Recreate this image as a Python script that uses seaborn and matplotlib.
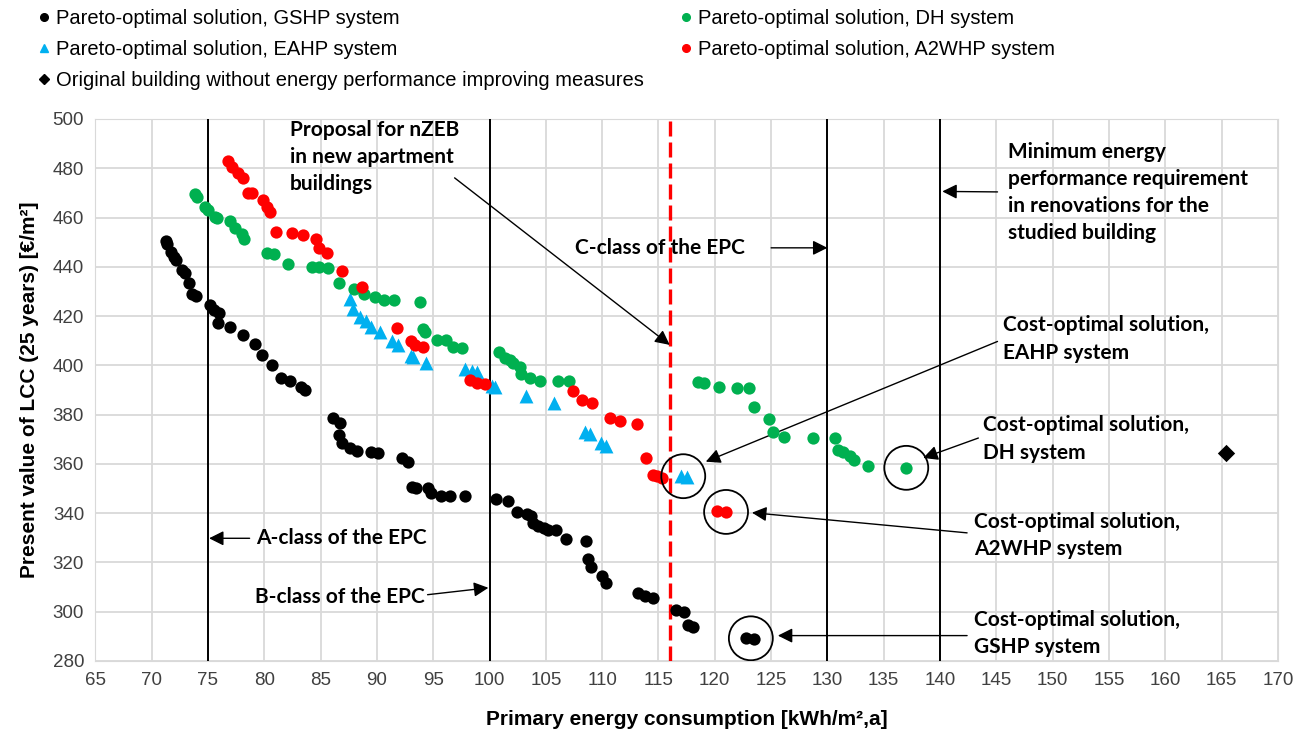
import numpy as np
import pandas as pd
import seaborn as sns
import matplotlib.pyplot as plt
from matplotlib.lines import Line2D

# pareto-optimal solutions
gshp_x = [71.3, 71.4, 71.7, 72.0, 72.2, 72.7, 73.0, 73.3, 73.6, 73.9, 75.2, 75.5, 76.0, 75.9, 77.0, 78.1,
          79.2, 79.8, 80.7, 81.5, 82.3, 83.3, 83.6, 86.1, 86.7, 86.6, 86.9, 87.6, 88.2, 89.5, 90.1, 92.2,
          92.8, 93.1, 93.5, 94.5, 94.8, 95.7, 96.5, 97.8, 100.6, 101.6, 102.4, 103.3, 103.7, 103.9, 104.3,
          104.8, 105.2, 105.9, 106.8, 108.6, 108.7, 109.0, 110.0, 110.3, 113.2, 113.8, 114.5, 116.6, 117.3,
          117.6, 118.1, 122.8, 123.5]
gshp_y = [450.6, 449.3, 446.2, 444.1, 442.8, 438.7, 437.4, 433.6, 429.0, 428.3, 424.5, 422.5, 421.4, 417.1,
          415.7, 412.4, 408.7, 404.3, 400.2, 394.8, 393.8, 391.4, 390.1, 378.6, 376.6, 371.8, 368.4, 366.4,
          365.4, 365.0, 364.6, 362.4, 360.6, 350.8, 350.2, 350.2, 348.2, 347.1, 346.8, 346.8, 345.7, 345.0,
          340.3, 339.8, 338.7, 336.2, 334.9, 333.9, 333.2, 333.2, 329.4, 328.9, 321.3, 318.3, 314.5, 311.6,
          307.5, 306.2, 305.5, 300.5, 299.7, 294.7, 293.8, 289.3, 289.0]

dh_x = [73.85, 74.05, 74.7, 75.0, 75.6, 75.8, 77.0, 77.4, 78.0, 78.2, 80.2, 80.9, 82.1, 84.2, 84.9, 85.7,
        86.6, 88.0, 88.9, 89.8, 90.6, 91.5, 93.8, 94.1, 94.3, 95.3, 96.1, 96.8, 97.6, 100.8, 101.4, 101.8,
        102.1, 102.7, 102.8, 103.6, 104.5, 106.1, 107.1, 118.5, 119.0, 120.4, 122.0, 123.0, 123.5, 124.8,
        125.2, 126.1, 128.7, 130.7, 130.9, 131.4, 132.0, 132.4, 133.6, 137.0]
dh_y = [469.6, 468.5, 464.4, 463.1, 460.1, 459.7, 458.7, 455.9, 453.2, 451.2, 445.5, 445.2, 441.1, 440.1,
        439.8, 439.4, 433.6, 430.9, 428.9, 427.9, 426.6, 426.6, 425.9, 414.7, 413.7, 410.3, 410.1, 407.6,
        407.0, 405.6, 402.9, 402.2, 400.9, 399.5, 396.6, 394.8, 393.8, 393.8, 393.8, 393.4, 393.0, 391.2,
        390.8, 390.8, 383.0, 378.3, 373.1, 371.1, 370.5, 370.5, 365.7, 365.0, 363.0, 361.7, 359.2, 358.4]

eahp_x = [87.6, 87.9, 88.5, 89.0, 89.5, 90.3, 91.3, 91.9, 93.0, 93.2, 94.4, 97.8, 98.4, 98.9, 100.2, 100.5,
          103.2, 105.7, 108.5, 108.9, 109.9, 110.3, 117.0, 117.5]
eahp_y = [426.9, 422.8, 419.8, 417.8, 415.7, 413.7, 409.7, 408.3, 403.9, 403.3, 400.9, 398.5, 397.9, 397.1,
          391.7, 391.2, 387.6, 384.9, 373.1, 372.2, 368.4, 367.3, 355.2, 354.8]

a2whp_x = [76.8, 77.1, 77.7, 78.1, 78.6, 78.9, 79.9, 80.2, 80.5, 81.0, 82.5, 83.4, 84.6, 84.9, 85.6, 86.9,
           88.7, 91.8, 93.0, 93.4, 94.1, 98.3, 98.9, 99.6, 107.4, 108.2, 109.1, 110.7, 111.6, 113.1, 113.9,
           114.5, 114.9, 115.3, 120.2, 121.0]
a2whp_y = [483.1, 480.6, 478.0, 476.2, 470.1, 470.1, 467.1, 464.4, 462.4, 454.3, 453.6, 452.9, 451.2, 447.5,
           445.8, 438.1, 432.0, 415.1, 409.7, 408.3, 407.6, 394.1, 392.8, 392.5, 389.4, 386.0, 384.7, 378.6,
           377.6, 376.3, 362.4, 355.6, 354.9, 354.2, 340.7, 340.3]

orig_x = [165.4]
orig_y = [364.4]

# cost-optimal points (circled)
opt_x = [117.2, 121.0, 123.2, 137.0]
opt_y = [355.0, 340.5, 289.2, 358.4]

epc_lines = [75, 100, 130, 140]
nzeb_line = 116

series = [
    ('Pareto-optimal solution, GSHP system', gshp_x, gshp_y, 'black', 'o'),
    ('Pareto-optimal solution, EAHP system', eahp_x, eahp_y, '#00B0F0', '^'),
    ('Original building without energy performance improving measures', orig_x, orig_y, 'black', 'D'),
    ('Pareto-optimal solution, DH system', dh_x, dh_y, '#00B050', 'o'),
    ('Pareto-optimal solution, A2WHP system', a2whp_x, a2whp_y, '#FF0000', 'o'),
]

plt.rcParams['font.family'] = ['Liberation Sans', 'DejaVu Sans']
fig = plt.figure(figsize=(13.09, 7.40), dpi=100)
ax = fig.add_axes([0.0728, 0.1068, 0.9035, 0.7324])

handles = []
for name, xs, ys, col, mk in series:
    size = 100 if mk == '^' else 78
    sns.scatterplot(x=xs, y=ys, color=col, marker=mk, s=size, linewidth=0, ax=ax, zorder=5, legend=False)
    handles.append(Line2D([], [], color=col, marker=mk, linestyle='none', markersize=5.5 if mk != 'D' else 5,
                          label=name))

ax.scatter(opt_x, opt_y, s=1000, facecolors='none', edgecolors='black', linewidths=1.3, zorder=6)

for xv in epc_lines:
    ax.axvline(xv, color='black', lw=1.4, zorder=3)
ax.axvline(nzeb_line, color='#FF0000', lw=2.4, linestyle=(0, (4.5, 1.8)), zorder=3)

ax.set_xlim(65, 170)
ax.set_ylim(280, 500)
ax.set_xticks(np.arange(65, 171, 5))
ax.set_yticks(np.arange(280, 501, 20))
ax.grid(True, color='#d9d9d9', lw=1.3)
ax.set_axisbelow(True)
for sp in ax.spines.values():
    sp.set_color('#d9d9d9')
ax.tick_params(length=0, labelsize=13.5, colors='#404040', pad=8)
ax.set_xlabel('Primary energy consumption [kWh/m²,a]', fontsize=15, fontweight='bold', labelpad=12)
ax.set_ylabel('Present value of LCC (25 years) [€/m²]', fontsize=15, fontweight='bold', labelpad=10)
ax.xaxis.set_label_coords(0.5, -0.09)

# annotations
bold = dict(fontsize=15, fontweight='bold', family=['Lato', 'DejaVu Sans'], va='center', ha='left',
            linespacing=1.45, zorder=7)
arr = dict(arrowstyle='-|>', color='black', lw=1.0, mutation_scale=22, shrinkA=0, shrinkB=0)

ax.text(82.3, 484.6, 'Proposal for nZEB\nin new apartment\nbuildings', **bold)
ax.annotate('', xy=(116.0, 408.3), xytext=(96.9, 476.1), arrowprops=arr)

ax.text(107.6, 447.7, 'C-class of the EPC', **bold)
ax.annotate('', xy=(130.0, 447.7), xytext=(125.0, 447.7), arrowprops=arr)

ax.text(146.0, 470.2, 'Minimum energy\nperformance requirement\nin renovations for the\nstudied building', **bold)
ax.annotate('', xy=(140.2, 470.6), xytext=(145.1, 470.4), arrowprops=arr)

ax.text(79.3, 330.0, 'A-class of the EPC', **bold)
ax.annotate('', xy=(75.1, 329.8), xytext=(78.7, 329.8), arrowprops=arr)

ax.text(79.2, 306.1, 'B-class of the EPC', **bold)
ax.annotate('', xy=(99.9, 309.7), xytext=(94.5, 306.9), arrowprops=arr)

ax.text(145.6, 410.7, 'Cost-optimal solution,\nEAHP system', **bold)
ax.annotate('', xy=(119.2, 360.9), xytext=(145.1, 409.7), arrowprops=arr)

ax.text(143.8, 370.1, 'Cost-optimal solution,\nDH system', **bold)
ax.annotate('', xy=(138.5, 362.4), xytext=(143.4, 370.5), arrowprops=arr)

ax.text(143.0, 330.8, 'Cost-optimal solution,\nA2WHP system', **bold)
ax.annotate('', xy=(123.3, 340.2), xytext=(142.4, 332.0), arrowprops=arr)

ax.text(143.0, 291.1, 'Cost-optimal solution,\nGSHP system', **bold)
ax.annotate('', xy=(125.6, 290.3), xytext=(142.4, 290.3), arrowprops=arr)

fig.legend(handles=handles, loc='upper left', bbox_to_anchor=(0.012, 1.012), ncol=2, frameon=False,
           fontsize=14.5, handlelength=1.0, handletextpad=0.1, columnspacing=1.6, labelspacing=0.6)

fig.savefig('out.png', dpi=100)
